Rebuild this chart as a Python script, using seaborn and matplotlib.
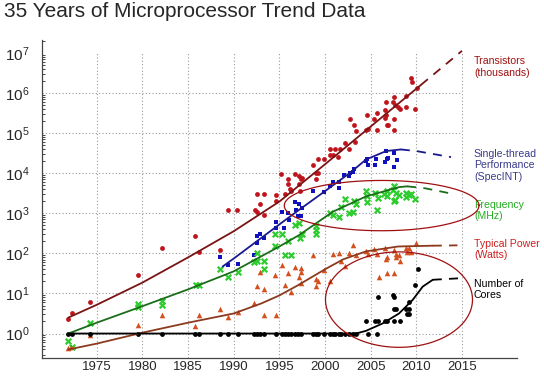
import numpy as np
import pandas as pd
import seaborn as sns
import matplotlib.pyplot as plt
from matplotlib.ticker import LogLocator, NullFormatter, FixedLocator

# ---- scatter data ----
trans_year = [1971.9, 1972.3, 1974.3, 1979.5, 1982.2, 1985.8, 1986.2, 1988.5, 1989.4, 1990.4,
              1992.3, 1992.5, 1992.5, 1992.9, 1993.3, 1993.3, 1994.6, 1994.6, 1995.2, 1995.6,
              1995.9, 1996.0, 1996.2, 1996.3, 1996.7, 1997.2, 1997.5, 1997.2, 1997.3, 1997.4,
              1998.7, 1999.0, 1999.2, 1999.0, 1999.2, 1999.9, 2000.5, 2000.5, 2000.9, 2001.1,
              2001.6, 2001.4, 2002.2, 2002.6, 2002.7, 2003.2, 2003.4, 2003.3, 2004.5, 2004.7,
              2004.6, 2005.4, 2005.7, 2005.7, 2006.6, 2006.7, 2006.6, 2006.8, 2006.9, 2006.7,
              2007.5, 2007.4, 2007.7, 2008.0, 2008.2, 2007.6, 2007.6, 2008.9, 2008.9, 2009.9,
              2010.1, 2009.4, 2009.5]
trans_val = [2.3, 3.3, 6, 29, 135, 275, 110, 120, 1200, 1200,
             1200, 1100, 3100, 1700, 3100, 900, 2800, 2000, 9500, 3100,
             5500, 7000, 4000, 3500, 9500, 8700, 7500, 5500, 3500, 7200,
             15500, 9800, 9800, 7000, 22000, 22500, 29000, 39000, 29000, 40000,
             39000, 25500, 55000, 39000, 220000, 155000, 112000, 58000, 118000, 125000,
             275000, 224000, 310000, 118000, 370000, 275000, 240000, 155000, 155000, 590000,
             800000, 590000, 490000, 450000, 400000, 224000, 118000, 830000, 450000, 400000,
             1300000, 2300000, 1900000]

perf_year = [1988.5, 1989.4, 1990.5, 1992.2, 1992.5, 1992.9, 1992.5, 1993.3, 1994.6, 1994.6,
             1995.3, 1995.5, 1996.0, 1996.1, 1996.7, 1996.8, 1997.0, 1997.2, 1997.4, 1997.5,
             1998.7, 1999.9, 2000.5, 2000.9, 2001.5, 2001.5, 2002.1, 2002.6, 2002.7, 2003.1,
             2003.2, 2004.5, 2004.7, 2004.6, 2005.5, 2005.6, 2006.6, 2006.8, 2006.9, 2006.7,
             2007.5, 2007.9, 2007.6]
perf_val = [83, 52, 55, 89, 263, 307, 180, 240, 590, 426,
            1050, 430, 1000, 660, 1860, 1170, 870, 1740, 870, 1350,
            3550, 3300, 4700, 5900, 5900, 4300, 9100, 8700, 9800, 10500,
            12600, 20000, 16200, 21900, 16200, 21900, 18600, 21900, 24000, 35500,
            31000, 21000, 14500]

freq_year = [1971.9, 1972.3, 1974.3, 1979.5, 1979.5, 1982.2, 1982.2, 1985.9, 1986.2, 1988.5,
             1989.4, 1990.5, 1992.2, 1992.5, 1992.5, 1993.3, 1993.3, 1994.5, 1994.5, 1995.3,
             1995.6, 1996.3, 1996.0, 1996.7, 1997.3, 1997.5, 1997.2, 1999.0, 1999.0, 1999.0,
             2000.5, 2000.9, 2001.5, 2001.7, 2002.2, 2002.6, 2003.1, 2003.2, 2003.4, 2004.5,
             2004.6, 2004.6, 2005.5, 2005.8, 2005.7, 2006.5, 2006.8, 2006.8, 2007.5, 2007.4,
             2007.8, 2007.7, 2007.6, 2008.1, 2008.9, 2009.2, 2009.4, 2008.9, 2009.9]
freq_val = [0.66, 0.47, 1.86, 4.5, 5.4, 5.2, 6.5, 16, 16, 40,
            25, 34, 60, 100, 63, 66, 40, 148, 310, 310,
            91, 91, 200, 515, 240, 310, 560, 470, 310, 380,
            1000, 910, 800, 1400, 2200, 1000, 1100, 2000, 1740, 3550,
            2750, 1860, 3200, 2400, 1230, 3100, 2630, 3550, 4700, 3900,
            3200, 2100, 2000, 2900, 3200, 2900, 3100, 2500, 2200]

power_year = [1971.9, 1972.2, 1974.3, 1979.5, 1982.2, 1985.8, 1986.2, 1988.5, 1989.4, 1990.5,
              1992.2, 1992.5, 1992.9, 1993.3, 1993.3, 1994.6, 1994.5, 1995.3, 1995.9, 1996.3,
              1995.6, 1996.7, 1997.1, 1997.4, 1997.4, 1997.4, 1998.7, 1999.0, 1999.0, 1999.2,
              1999.9, 2000.5, 2000.9, 2001.5, 2001.7, 2002.2, 2002.6, 2003.1, 2003.4, 2004.5,
              2004.7, 2005.4, 2005.7, 2005.9, 2006.6, 2006.7, 2006.8, 2006.8, 2007.6, 2007.5,
              2007.8, 2007.8, 2008.2, 2008.1, 2008.9, 2009.2, 2009.0, 2009.4, 2010.0]
power_val = [0.43, 0.45, 0.9, 1.6, 2.9, 1.5, 2.9, 4, 2.6, 3.5,
             5.9, 15, 35, 13, 2.9, 2.9, 29, 52, 32, 11,
             16, 45, 26, 35, 18, 43, 91, 23, 15, 20,
             39, 21, 98, 100, 66, 49, 100, 158, 91, 112,
             98, 126, 98, 25, 135, 71, 32, 80, 32, 123,
             98, 80, 66, 91, 135, 135, 105, 105, 178]

cores_year = [1971.9, 1972.3, 1974.3, 1979.5, 1982.2, 1985.8, 1986.2, 1988.5, 1989.4, 1990.5,
              1992.2, 1992.5, 1992.9, 1993.3, 1994.6, 1995.3, 1995.6, 1995.9, 1996.3, 1996.7,
              1997.0, 1997.4, 1998.7, 1999.0, 1999.2, 1999.9, 2000.5, 2000.9, 2001.1, 2001.5,
              2001.7, 2002.2, 2002.6, 2003.1, 2003.4, 2004.7, 2005.7,
              2004.5, 2005.5, 2005.8, 2006.6, 2006.8, 2007.6, 2008.2, 2005.8, 2007.4, 2007.6,
              2007.5, 2007.8, 2008.9, 2009.0, 2009.2, 2009.2, 2009.2, 2009.9, 2010.2]
cores_val = [1] * 37 + [2, 2, 2, 2, 2, 2, 2, 8, 9, 8,
                        4, 4, 4, 3, 3, 4, 6, 16, 40]

# ---- trend curves (solid part, then dashed projection) ----
trans_fit_year = [1971.9, 1975, 1980, 1985, 1990, 1995, 2000, 2005, 2010.5]
trans_fit_val = [2.5, 5.2, 18.6, 79, 355, 1950, 16600, 145000, 1580000]
trans_proj_year = [2010.5, 2015]
trans_proj_val = [1580000, 11200000]

perf_fit_year = [1988.8, 1990, 1995, 1997.2, 2000, 2002.7, 2004.5, 2006.7, 2008.3]
perf_fit_val = [47, 74, 525, 1230, 3550, 10000, 21900, 35500, 38900]
perf_proj_year = [2008.3, 2010, 2012, 2013.8]
perf_proj_val = [38900, 35500, 29500, 25100]

freq_fit_year = [1971.9, 1975, 1980, 1985, 1990, 1995, 1997.2, 1999.6, 2000.9, 2004.5, 2008.1, 2009]
freq_fit_val = [1.0, 1.86, 4.8, 12.6, 35.5, 148, 288, 690, 1100, 2630, 4470, 4680]
freq_proj_year = [2009, 2011, 2013.6]
freq_proj_val = [4680, 4170, 3160]

power_fit_year = [1971.9, 1975, 1980, 1985, 1990, 1993, 1995, 1997, 2000, 2002, 2004.5, 2008, 2011.8]
power_fit_val = [0.4, 0.56, 1.05, 1.86, 3.16, 5.6, 8.9, 15.8, 40, 71, 112, 148, 155]
power_proj_year = [2011.8, 2014.5]
power_proj_val = [155, 158]

cores_fit_year = [1971.9, 2003.4, 2004.5, 2006.3, 2008.1, 2009.6, 2010.7, 2011.8]
cores_fit_val = [1, 1, 1.17, 1.78, 3.16, 6.9, 14.8, 21.9]
cores_proj_year = [2011.8, 2014.9]
cores_proj_val = [21.9, 24]

year_ticks = [1975, 1980, 1985, 1990, 1995, 2000, 2005, 2010, 2015]
value_ticks = [1e0, 1e1, 1e2, 1e3, 1e4, 1e5, 1e6, 1e7]

series = [
    # years, values, marker, marker colour, line colour, fit, projection, label text, label y, text colour
    (trans_year, trans_val, "o", "#c0141c", "#7a1414",
     trans_fit_year, trans_fit_val, trans_proj_year, trans_proj_val,
     "Transistors\n(thousands)", 4.4e6, "#a01010"),
    (perf_year, perf_val, "s", "#1010c0", "#1a1a90",
     perf_fit_year, perf_fit_val, perf_proj_year, perf_proj_val,
     "Single-thread\nPerformance\n(SpecINT)", 1.55e4, "#3a3a8c"),
    (freq_year, freq_val, "x", "#2ecc2e", "#1a6e1a",
     freq_fit_year, freq_fit_val, freq_proj_year, freq_proj_val,
     "Frequency\n(MHz)", 1.18e3, "#22aa22"),
    (power_year, power_val, "^", "#d4501e", "#8b3a1e",
     power_fit_year, power_fit_val, power_proj_year, power_proj_val,
     "Typical Power\n(Watts)", 123, "#cc2020"),
    (cores_year, cores_val, "o", "#000000", "#000000",
     cores_fit_year, cores_fit_val, cores_proj_year, cores_proj_val,
     "Number of\nCores", 12.8, "#000000"),
]

sns.set_style("white")
plt.rcParams['font.family'] = ['Liberation Sans', 'DejaVu Sans']
plt.rcParams['mathtext.fontset'] = 'custom'
plt.rcParams['mathtext.rm'] = 'Liberation Sans'

fig = plt.figure(figsize=(5.44, 3.77), dpi=100)
ax = fig.add_axes([0.077, 0.0504, 0.873, 0.8436])
ax.set_yscale("log")
ax.set_xlim(1969, 2021)
ax.set_ylim(10 ** -0.61, 10 ** 7.32)

# dotted grid, limited to the 1969-2015 area
ax.vlines(year_ticks, 10 ** -0.61, 1e7, colors="#9a9a9a", linestyles=(0, (1, 2)), lw=0.8, zorder=0)
ax.hlines(value_ticks[:-1], 1969, 2015, colors="#9a9a9a",
          linestyles=(0, (1, 2)), lw=0.8, zorder=0)

for (yrs, vals, mk, mcol, lcol, fy, fv, py, pv, label, ly, tcol) in series:
    df = pd.DataFrame({"year": yrs, "value": vals})
    if mk == "x":
        sns.scatterplot(data=df, x="year", y="value", marker="x", color=mcol, s=16,
                        linewidth=1.6, ax=ax, zorder=3)
    else:
        sz = 12 if mk != "^" else 16
        sns.scatterplot(data=df, x="year", y="value", marker=mk, color=mcol, s=sz,
                        linewidth=0, ax=ax, zorder=3)
    fit = pd.DataFrame({"year": fy, "value": fv})
    sns.lineplot(data=fit, x="year", y="value", color=lcol, lw=1.3, ax=ax,
                 estimator=None, sort=False, zorder=4)
    proj = pd.DataFrame({"year": py, "value": pv})
    sns.lineplot(data=proj, x="year", y="value", color=lcol, lw=1.3, ax=ax,
                 estimator=None, sort=False, linestyle=(0, (5, 4)), zorder=4)
    ax.text(2016.3, ly, label, color=tcol, fontsize=7.6, va="center", ha="left",
            linespacing=1.15)

# highlight ellipses (drawn in year / log-value space)
t = np.linspace(0, 2 * np.pi, 200)
for cx, a, cy, b in [(2006.2, 10.66, 3.19, 0.627), (2008.1, 8.05, 0.846, 1.19)]:
    ax.plot(cx + a * np.cos(t), 10 ** (cy + b * np.sin(t)), color="#a01010", lw=0.9, zorder=5)

ax.set_xlabel("")
ax.set_ylabel("")
ax.set_xticks(year_ticks)
ax.set_xticklabels([str(y) for y in year_ticks], fontsize=9.5)
ax.yaxis.set_major_locator(FixedLocator(value_ticks))
ax.yaxis.set_minor_locator(LogLocator(base=10, subs=np.arange(2, 10), numticks=12))
ax.yaxis.set_minor_formatter(NullFormatter())
ax.tick_params(axis="y", which="major", direction="in", length=4, width=0.8, labelsize=11, pad=9)
ax.tick_params(axis="y", which="minor", direction="in", length=2, width=0.6, left=True)
ax.tick_params(axis="x", which="both", length=0, pad=2)
for s in ["top", "right"]:
    ax.spines[s].set_visible(False)
for s in ["left", "bottom"]:
    ax.spines[s].set_color("#444444")
    ax.spines[s].set_linewidth(0.9)

fig.text(0.008, 0.955, "35 Years of Microprocessor Trend Data", fontsize=15, ha="left", va="baseline")

fig.savefig("out.png", dpi=100)
